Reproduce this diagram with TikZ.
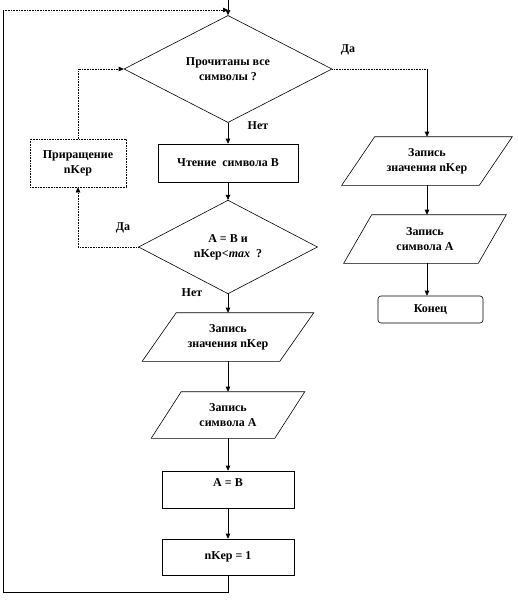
\documentclass[tikz,border=0pt]{standalone}
\usepackage{fontspec}
\setmainfont{Liberation Serif}
\usetikzlibrary{shapes.geometric,arrows.meta}
\newcommand\drawpara[2]{%
  \draw ([xshift=-#2/2]#1.south west) -- ([xshift=#2/2]#1.north west) --
        ([xshift=#2/2]#1.north east) -- ([xshift=-#2/2]#1.south east) -- cycle;}
\begin{document}
\begin{tikzpicture}[x=1pt,y=-1pt,
  font=\fontsize{12}{15}\selectfont\bfseries,
  line width=0.6pt,
  arr/.style={-{Triangle[length=5pt,width=4.5pt]}},
  dotln/.style={densely dotted},
  box/.style={draw, inner sep=0pt, align=center},
  dec/.style={draw, diamond, inner sep=0pt, align=center},
  io/.style={inner sep=0pt, align=center},
  lbl/.style={inner sep=0pt}
]
\useasboundingbox (0,0) rectangle (517,605);

% decisions
\node[dec, minimum width=208pt, minimum height=84pt] (d1) at (228,69) {Прочитаны все\\символы ?};
\node[dec, minimum width=179pt, minimum height=66pt] (d2) at (228,247) {A = B и\\nKep<\textit{max}\ \ ?};

% boxes
\node[box, minimum width=140pt, minimum height=38pt] (read) at (228,163) {Чтение\ \ символа B};
\node[box, dotln, minimum width=96pt, minimum height=48pt] (inc) at (78,163) {Приращение\\nKep};
\node[box, minimum width=132pt, minimum height=37pt, text depth=14pt] (assign) at (228,489.5) {A = B};
\node[box, minimum width=132pt, minimum height=36pt] (set1) at (228,557) {nKep = 1};
\node[box, rounded corners=3pt, minimum width=105pt, minimum height=27pt] (end) at (430.5,309.5) {Конец};

% parallelograms
\node[io, minimum width=137pt, minimum height=48pt] (pr1) at (427,161) {Запись\\значения nKep};
\drawpara{pr1}{33pt}
\node[io, minimum width=134pt, minimum height=48pt] (pr2) at (425,239) {Запись\\символа A};
\drawpara{pr2}{28pt}
\node[io, minimum width=137pt, minimum height=48pt] (pl1) at (228,337) {Запись\\значения nKep};
\drawpara{pl1}{34pt}
\node[io, minimum width=123pt, minimum height=46pt] (pl2) at (228,415) {Запись\\символа A};
\drawpara{pl2}{30pt}

% labels
\node[lbl] (yes1) at (348,50) {Да};
\node[lbl] (no1) at (258,126) {Нет};
\node[lbl] (yes2) at (123,228) {Да};
\node[lbl] (no2) at (192,293) {Нет};

% free ends
\coordinate (top) at (228,0);
\coordinate (lt) at (3,10);
\coordinate (lb) at (3,592);

% connectors
\draw[arr] (top) -- (d1.north);
\draw[arr] (d1.south) -- (read.north);
\draw[arr] (read.south) -- (d2.north);
\draw[arr] (d2.south) -- (pl1.north);
\draw[arr] (pl1.south) -- (pl2.north);
\draw[arr] (pl2.south) -- (assign.north);
\draw[arr] (assign.south) -- (set1.north);
\draw (set1.south) |- (lb) -- (lt);
\draw[dotln, arr] (lt) -- (lt -| top);

\draw[dotln] (d1.east) -- (d1.east -| pr1.north);
\draw[arr] (d1.east -| pr1.north) -- (pr1.north);
\draw[arr] (pr1.south) -- (pr1.south |- pr2.north);
\draw[arr] (pr1.south |- pr2.south) -- (pr1.south |- end.north);

\draw[dotln, arr] (d2.west) -| (inc.south);
\draw[dotln, arr] (inc.north) |- (d1.west);
\end{tikzpicture}
\end{document}
